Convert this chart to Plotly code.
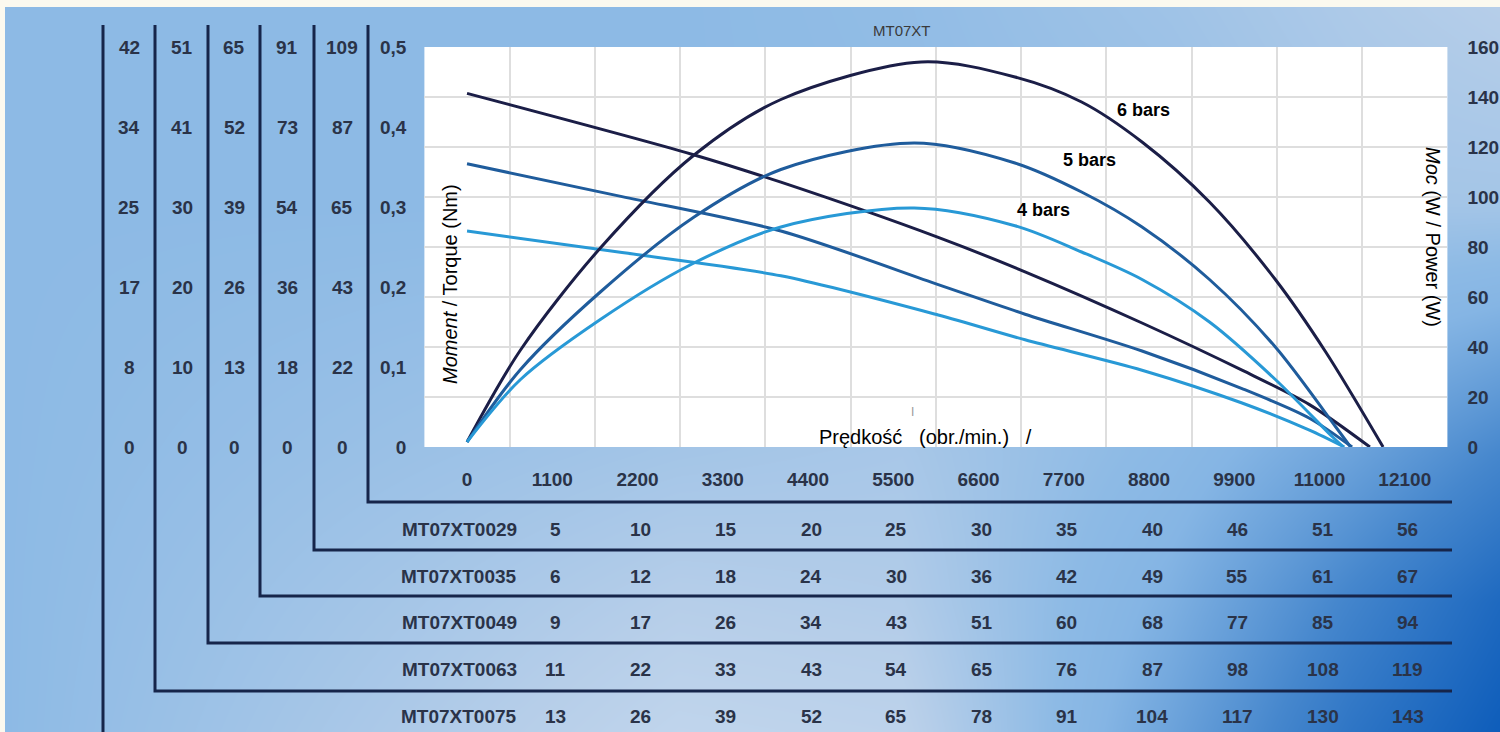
import plotly.graph_objects as go

W, H = 1500, 732

# ---------------- data ----------------
# torque (Nm) vs speed (rpm)
RPM_T6 = [0, 2900, 4050, 6080, 7200, 8710, 10000, 10870, 11650]
TORQUE_6 = [0.442, 0.366, 0.331, 0.262, 0.219, 0.155, 0.096, 0.053, 0.0]
RPM_T5 = [0, 2000, 4050, 6080, 7200, 8710, 10000, 10870, 11420]
TORQUE_5 = [0.354, 0.313, 0.270, 0.203, 0.166, 0.120, 0.073, 0.036, 0.0]
RPM_T4 = [0, 2000, 4050, 6080, 7200, 8710, 10000, 10870, 11320]
TORQUE_4 = [0.270, 0.243, 0.214, 0.165, 0.134, 0.096, 0.055, 0.021, 0.0]

# power (W) vs speed (rpm)
RPM_P6 = [0, 690, 1720, 2930, 4050, 5860, 7070, 7930, 8710, 9580, 10430, 11080, 11820]
POWER_6 = [2, 38.8, 79.6, 116.8, 139, 154, 148, 138, 122, 98, 67, 38, 0]
RPM_P5 = [0, 690, 1720, 2930, 4050, 5770, 7070, 7930, 8710, 9580, 10430, 11210, 11400]
POWER_5 = [2, 31, 62, 92, 111, 121.6, 113.6, 102, 88, 67, 40, 8, 0]
RPM_P4 = [0, 690, 1720, 2890, 4050, 5770, 7070, 7930, 8710, 9580, 10430, 11170, 11310]
POWER_4 = [2, 27, 51, 73, 88, 95.6, 88.5, 78, 67, 50, 27, 4, 0]

SERIES_NAMES = ["6 bars", "5 bars", "4 bars"]

X_TICKS = [0, 1100, 2200, 3300, 4400, 5500, 6600, 7700, 8800, 9900, 11000, 12100]
X_GRID = [550, 1650, 2750, 3850, 4950, 6050, 7150, 8250, 9350, 10450, 11550]
TORQUE_TICKS = [0, 0.1, 0.2, 0.3, 0.4, 0.5]
TORQUE_TICK_LABELS = ["0", "0,1", "0,2", "0,3", "0,4", "0,5"]
POWER_TICKS = [0, 20, 40, 60, 80, 100, 120, 140, 160]

# output torque columns (per gearbox) aligned with torque ticks
COL_0075 = [0, 8, 17, 25, 34, 42]
COL_0063 = [0, 10, 20, 30, 41, 51]
COL_0049 = [0, 13, 26, 39, 52, 65]
COL_0035 = [0, 18, 36, 54, 73, 91]
COL_0029 = [0, 22, 43, 65, 87, 109]

# output speed rows (per gearbox) for speeds 1100..12100
ROW_SPEEDS = X_TICKS[1:]
ROW_MODELS = ["MT07XT0029", "MT07XT0035", "MT07XT0049", "MT07XT0063", "MT07XT0075"]
ROW_0029 = [5, 10, 15, 20, 25, 30, 35, 40, 46, 51, 56]
ROW_0035 = [6, 12, 18, 24, 30, 36, 42, 49, 55, 61, 67]
ROW_0049 = [9, 17, 26, 34, 43, 51, 60, 68, 77, 85, 94]
ROW_0063 = [11, 22, 33, 43, 54, 65, 76, 87, 98, 108, 119]
ROW_0075 = [13, 26, 39, 52, 65, 78, 91, 104, 117, 130, 143]

# ---------------- styling ----------------
C6, C5, C4 = "#1b1e47", "#1f5c9c", "#2899d6"
NUM_COLOR = "#2a3348"
NAVY = "#16254a"
FONT = "Liberation Sans, Arial, sans-serif"


def px(x):
    return x / W


def py(y):
    return 1 - y / H


fig = go.Figure()

# background gradient panel (decoration)
bg_x = [0, 0.45, 0.6, 0.78, 0.9, 1.0]
bg_y = [0, 0.18, 0.385, 0.73, 1.0]
bg_z = [
    [0.62, 0.86, 0.84, 0.45, 0.18, 0.02],
    [0.62, 0.80, 0.78, 0.52, 0.28, 0.10],
    [0.62, 0.72, 0.74, 0.60, 0.45, 0.30],
    [0.62, 0.62, 0.63, 0.66, 0.72, 0.72],
    [0.62, 0.62, 0.64, 0.70, 0.76, 0.80],
]
fig.add_trace(go.Heatmap(
    x=bg_x, y=bg_y, z=bg_z, zsmooth="best", showscale=False, hoverinfo="skip",
    zmin=0, zmax=1,
    colorscale=[[0, "rgb(10,90,185)"], [0.3, "rgb(70,135,205)"], [0.55, "rgb(133,181,228)"],
                [0.62, "rgb(141,186,229)"], [0.8, "rgb(182,206,233)"], [1.0, "rgb(215,228,243)"]],
    xaxis="x", yaxis="y",
))

# torque lines
for rx, ty, c in [(RPM_T6, TORQUE_6, C6), (RPM_T5, TORQUE_5, C5), (RPM_T4, TORQUE_4, C4)]:
    fig.add_trace(go.Scatter(x=rx, y=ty, mode="lines",
                             line=dict(color=c, width=3, shape="spline", smoothing=0.8),
                             xaxis="x2", yaxis="y2", showlegend=False, hoverinfo="skip"))
# power curves
for rx, py_, c, n in [(RPM_P6, POWER_6, C6, SERIES_NAMES[0]), (RPM_P5, POWER_5, C5, SERIES_NAMES[1]),
                      (RPM_P4, POWER_4, C4, SERIES_NAMES[2])]:
    fig.add_trace(go.Scatter(x=rx, y=py_, mode="lines", name=n,
                             line=dict(color=c, width=3, shape="spline", smoothing=0.9),
                             xaxis="x2", yaxis="y3", showlegend=False, hoverinfo="skip"))

tickfont = dict(family=FONT, size=19, color=NUM_COLOR, weight="bold")

fig.update_layout(
    template="none",
    width=W, height=H, autosize=False,
    margin=dict(l=0, r=0, t=0, b=0, pad=0, autoexpand=False),
    paper_bgcolor="#fbf9ef",
    plot_bgcolor="white",
    showlegend=False,
    xaxis=dict(domain=[5 / W, 1], range=[0, 1], visible=False, fixedrange=True, automargin=False),
    yaxis=dict(domain=[0, 1 - 7 / H], range=[0, 1], visible=False, fixedrange=True, automargin=False),
    xaxis2=dict(domain=[px(424.4), px(1447.4)], anchor="y2", range=[-550, 12650], automargin=False,
                tickvals=X_TICKS, ticktext=[str(v) for v in X_TICKS], showgrid=False,
                zeroline=False, showline=False, ticks="", tickfont=tickfont,
                ticklabelstandoff=19,
                minor=dict(tickvals=X_GRID, showgrid=True, gridcolor="#dedede", gridwidth=1.5, ticks="")),
    yaxis2=dict(domain=[py(447), py(47)], anchor="x2", range=[0, 0.5], automargin=False,
                tickvals=TORQUE_TICKS, ticktext=TORQUE_TICK_LABELS, showgrid=False,
                zeroline=False, showline=False, ticks="", tickfont=tickfont,
                ticklabelstandoff=17),
    yaxis3=dict(overlaying="y2", anchor="x2", side="right", range=[0, 160], automargin=False,
                tickvals=POWER_TICKS, showgrid=True, gridcolor="#dedede", gridwidth=1.5,
                zeroline=False, showline=False, ticks="", tickfont=tickfont,
                ticklabelstandoff=19),
)

ann = []


def note(**kw):
    kw.setdefault("xanchor", "center")
    kw.setdefault("yanchor", "middle")
    kw.setdefault("showarrow", False)
    ann.append(kw)


# curve labels
for name, xr, yp in [(SERIES_NAMES[0], 8723, 134.8), (SERIES_NAMES[1], 8026, 114.8), (SERIES_NAMES[2], 7432, 94.8)]:
    note(x=xr, y=yp, xref="x2", yref="y3", text=name,
         font=dict(family=FONT, size=18, color="black", weight="bold"))

# axis titles
note(x=px(450), y=py(284), xref="paper", yref="paper", text="<i>Moment</i> / Torque (Nm)",
     textangle=-90, font=dict(family=FONT, size=20, color="black"))
note(x=px(1433), y=py(237), xref="paper", yref="paper", text="<i>Moc</i> (W / Power (W)",
     textangle=90, font=dict(family=FONT, size=20, color="black"))
note(x=px(817), y=py(437), xref="paper", yref="paper", xanchor="left",
     text="Prędkość\u00a0\u00a0\u00a0(obr./min.)\u00a0\u00a0\u00a0/",
     font=dict(family=FONT, size=20, color="black"))
note(x=px(912), y=py(412), xref="paper", yref="paper", text="I",
     font=dict(family=FONT, size=12, color="#999999"))
note(x=px(902), y=py(30), xref="paper", yref="paper", text="MT07XT",
     font=dict(family=FONT, size=15, color="#3a3a3a"))

# left torque columns
for cx, vals in [(129, COL_0075), (182, COL_0063), (234, COL_0049), (287, COL_0035), (342, COL_0029)]:
    for tv, v in zip(TORQUE_TICKS, vals):
        note(x=px(cx), y=tv, xref="paper", yref="y2", text=str(v), font=tickfont)

# bottom speed rows
row_y = [529, 576, 622, 669, 716]
for model, vals, ry in zip(ROW_MODELS, [ROW_0029, ROW_0035, ROW_0049, ROW_0063, ROW_0075], row_y):
    note(x=px(519), y=py(ry), xref="paper", yref="paper", xanchor="right", text=model, font=tickfont)
    for sp, v in zip(ROW_SPEEDS, vals):
        note(x=sp, y=py(ry), xref="x2", yref="paper", text=str(v), xshift=3, font=tickfont)
fig.update_layout(annotations=ann)

# bracket lines
shapes = [dict(type="line", xref="paper", yref="paper", x0=px(103), x1=px(103), y0=py(25), y1=py(732),
               line=dict(color=NAVY, width=3))]
for vx, hy in [(155, 691), (208, 643), (260, 596), (314, 550), (368, 502)]:
    shapes.append(dict(type="path", xref="paper", yref="paper",
                       path=f"M {px(vx)} {py(25)} L {px(vx)} {py(hy)} L {px(1452)} {py(hy)}",
                       line=dict(color=NAVY, width=3)))
fig.update_layout(shapes=shapes)

post = (
    "document.body.style.margin='0';document.body.style.overflow='hidden';"
    "var gd=document.getElementById('{plot_id}');gd.style.position='fixed';gd.style.left='0px';gd.style.top='0px';"
)
fig.write_html("out.html", config={"displayModeBar": False}, post_script=post)
